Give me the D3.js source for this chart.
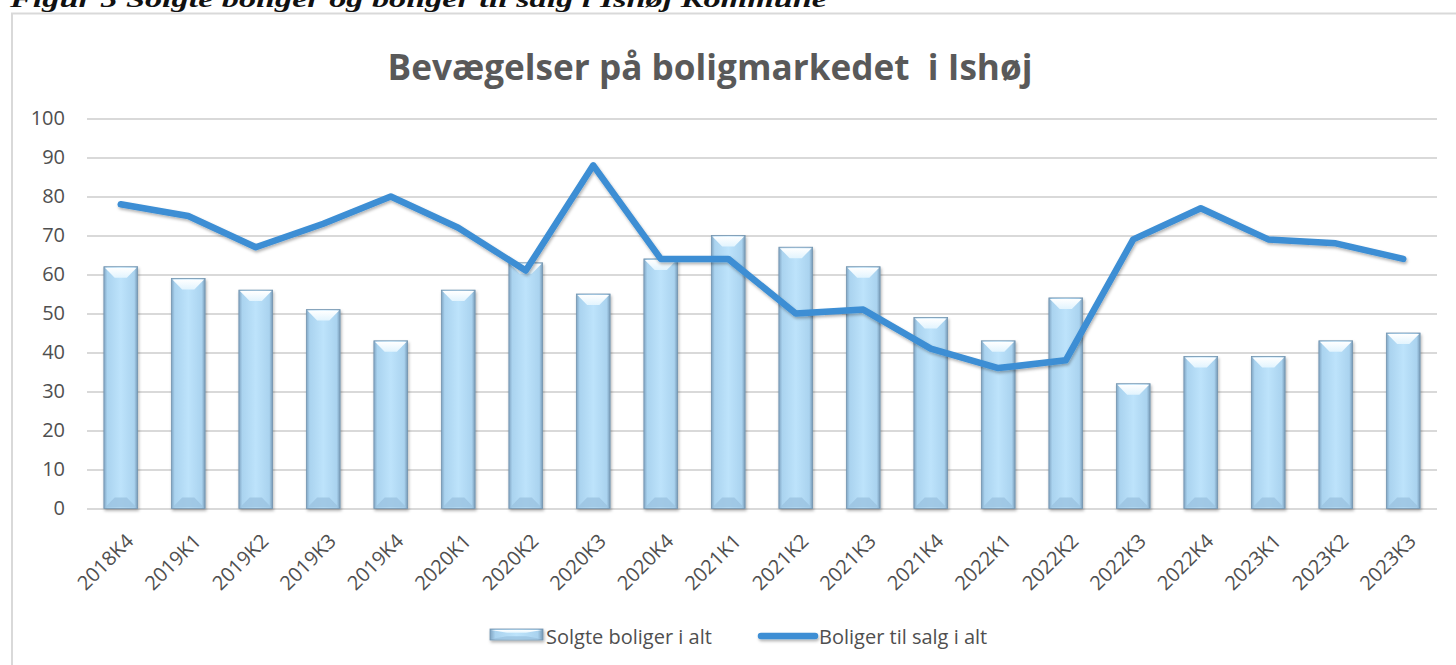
<!DOCTYPE html>
<html>
<head>
<meta charset="utf-8">
<script src="https://cdn.jsdelivr.net/npm/d3@7"></script>
<style>
  body { margin: 0; background: #fff; }
  svg { display: block; }
</style>
</head>
<body>
<svg width="1456" height="665"></svg>
<script>
// chart data
const quarters = ['2018K4', '2019K1', '2019K2', '2019K3', '2019K4', '2020K1', '2020K2', '2020K3', '2020K4', '2021K1',
  '2021K2', '2021K3', '2021K4', '2022K1', '2022K2', '2022K3', '2022K4', '2023K1', '2023K2', '2023K3'];
const solgte = [62, 59, 56, 51, 43, 56, 63, 55, 64, 70, 67, 62, 49, 43, 54, 32, 39, 39, 43, 45];
const tilSalg = [78, 75, 67, 73, 80, 72, 61, 88, 64, 64, 50, 51, 41, 36, 38, 69, 77, 69, 68, 64];
const yTicks = [0, 10, 20, 30, 40, 50, 60, 70, 80, 90, 100];
const seriesNames = ['Solgte boliger i alt', 'Boliger til salg i alt'];

const svg = d3.select('svg');
const textColor = '#4f4f4f';
const font = "'Open Sans', sans-serif";
const lineColor = '#3c8ed4';

const defs = svg.append('defs');
const barGrad = defs.append('linearGradient').attr('id', 'barGrad')
  .attr('x1', 0).attr('x2', 1).attr('y1', 0).attr('y2', 0);
[[0, '#7fa4c2'], [0.1, '#aad3ef'], [0.5, '#bde3fb'], [0.9, '#aad3ef'], [1, '#7699b6']].forEach((s) => {
  barGrad.append('stop').attr('offset', s[0]).attr('stop-color', s[1]);
});
const topGrad = defs.append('linearGradient').attr('id', 'topGrad')
  .attr('x1', 0).attr('x2', 0).attr('y1', 0).attr('y2', 1);
topGrad.append('stop').attr('offset', 0).attr('stop-color', '#ffffff');
topGrad.append('stop').attr('offset', 1).attr('stop-color', '#e2f4fe');
const shadow = defs.append('filter').attr('id', 'shadow')
  .attr('filterUnits', 'userSpaceOnUse')
  .attr('x', 0).attr('y', 0).attr('width', 1456).attr('height', 665);
shadow.append('feDropShadow').attr('dx', 1).attr('dy', 2).attr('stdDeviation', 1.5)
  .attr('flood-color', '#000').attr('flood-opacity', 0.3);

// caption above chart (cut off at top, as in the source)
svg.append('text')
  .attr('x', 10).attr('y', 7)
  .attr('font-family', "'Liberation Serif', serif")
  .attr('font-weight', 'bold').attr('font-style', 'italic')
  .attr('font-size', 24)
  .attr('fill', '#111')
  .attr('textLength', 817).attr('lengthAdjust', 'spacingAndGlyphs')
  .text('Figur 5 Solgte boliger og boliger til salg i Ishøj Kommune');

// chart frame
svg.append('rect')
  .attr('x', 12).attr('y', 13.5).attr('width', 1500).attr('height', 700)
  .attr('fill', 'none').attr('stroke', '#d9d9d9').attr('stroke-width', 2);

// title
svg.append('text')
  .attr('x', 710).attr('y', 80)
  .attr('text-anchor', 'middle')
  .attr('font-family', font).attr('font-weight', 'bold').attr('font-size', 36)
  .attr('fill', '#595959')
  .attr('textLength', 645).attr('lengthAdjust', 'spacingAndGlyphs')
  .attr('xml:space', 'preserve')
  .text('Bevægelser på boligmarkedet  i Ishøj');

const x = d3.scaleBand().domain(quarters).range([87, 1437]).paddingInner(0.5).paddingOuter(0.25);
const y = d3.scaleLinear().domain([0, 100]).range([508.5, 118.5]);

// gridlines + y labels
const yAxis = svg.append('g').attr('transform', 'translate(87,0)')
  .call(d3.axisLeft(y).tickValues(yTicks).tickSize(-1350).tickPadding(22));
yAxis.select('.domain').remove();
yAxis.selectAll('line').attr('stroke', '#d9d9d9').attr('stroke-width', 2);
yAxis.selectAll('text').attr('fill', textColor).attr('font-size', 20).attr('font-family', font);

// x labels
const xAxis = svg.append('g').attr('transform', 'translate(0,508.5)')
  .call(d3.axisBottom(x).tickSize(0).tickPadding(0));
xAxis.select('.domain').remove();
xAxis.selectAll('text')
  .attr('y', 0).attr('dy', 0)
  .attr('transform', 'translate(14,34) rotate(-45)')
  .attr('text-anchor', 'end')
  .attr('fill', textColor).attr('font-size', 20).attr('font-family', font);

// bars with bevel
const drawBar = (g, bx, top, w, bottom) => {
  const bevel = Math.min(11, (bottom - top) / 3);
  g.append('rect')
    .attr('x', bx).attr('y', top).attr('width', w).attr('height', bottom - top)
    .attr('fill', 'url(#barGrad)').attr('stroke', '#7495b0').attr('stroke-width', 0.8)
    .attr('filter', 'url(#shadow)');
  g.append('path')
    .attr('d', `M${bx + 1},${top + 1} L${bx + w - 1},${top + 1} L${bx + w * 0.68},${top + bevel} L${bx + w * 0.32},${top + bevel} Z`)
    .attr('fill', 'url(#topGrad)');
  g.append('path')
    .attr('d', `M${bx + 1},${bottom - 1} L${bx + w - 1},${bottom - 1} L${bx + w * 0.68},${bottom - bevel} L${bx + w * 0.32},${bottom - bevel} Z`)
    .attr('fill', '#9cc4e2').attr('opacity', 0.85);
};

const bars = svg.append('g');
quarters.forEach((q, i) => {
  drawBar(bars.append('g'), x(q), y(solgte[i]), x.bandwidth(), y(0));
});

// line series
const line = d3.line()
  .x((d, i) => x(quarters[i]) + x.bandwidth() / 2)
  .y(d => y(d));
svg.append('path')
  .datum(tilSalg)
  .attr('d', line)
  .attr('fill', 'none')
  .attr('stroke', lineColor)
  .attr('stroke-width', 6.5)
  .attr('stroke-linejoin', 'round')
  .attr('stroke-linecap', 'round')
  .attr('filter', 'url(#shadow)');

// legend
const legend = svg.append('g');
drawBar(legend.append('g'), 490, 629, 53, 640);
legend.append('text')
  .attr('x', 546).attr('y', 644)
  .attr('font-family', font).attr('font-size', 20).attr('fill', textColor)
  .text(seriesNames[0]);
legend.append('line')
  .attr('x1', 761).attr('x2', 815).attr('y1', 636).attr('y2', 636)
  .attr('stroke', lineColor).attr('stroke-width', 6.5).attr('stroke-linecap', 'round')
  .attr('filter', 'url(#shadow)');
legend.append('text')
  .attr('x', 819).attr('y', 644)
  .attr('font-family', font).attr('font-size', 20).attr('fill', textColor)
  .text(seriesNames[1]);
</script>
</body>
</html>
